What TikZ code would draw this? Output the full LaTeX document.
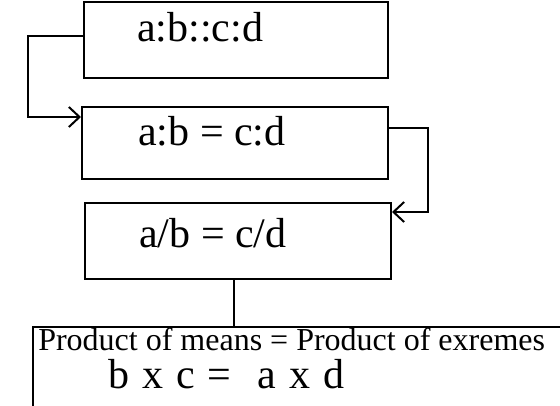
\documentclass[tikz,border=0pt]{standalone}
\usepackage{fontspec}
\setmainfont{Liberation Serif}
\usetikzlibrary{arrows.meta,positioning,calc}
\tikzset{
  box/.style={rectangle, draw=black, line width=1.5pt, inner sep=0pt,
    anchor=north west},
  txt/.style={anchor=base west, inner sep=0pt,
    font=\fontsize{31.5}{36}\selectfont},
  arr/.style={-{Straight Barb[length=8pt,width=15pt]}, line width=1.5pt}
}
\begin{document}
\begin{tikzpicture}[x=0.75pt,y=-0.75pt]
    \useasboundingbox (0,0) rectangle (560,406);
    \node[box, minimum width=228pt, minimum height=57pt] (ratio) at (83,1) {};
    \node[box, minimum width=229.5pt, minimum height=54pt] (eqcolon) at (81,106) {};
    \node[box, minimum width=229.5pt, minimum height=57pt] (frac) at (84,202) {};
    \node[box, minimum width=396pt, minimum height=78pt] (product) at (32,326) {};
    \node[txt] (ratiotxt) at (137,42) {a:b::c:d};
    \node[txt] (eqcolontxt) at (138,146) {a:b = c:d};
    \node[txt] (fractxt) at (139,247) {a/b = c/d};
    \node[txt, font=\fontsize{24}{28}\selectfont] (meanstxt) at (38,350)
        {Product of means = Product of exremes};
    \node[txt] (crosstxt) at (108,388)
        {\spaceskip=0.31em\relax b x c = \ a x d};
    \draw[arr] ($(ratio.north west)+(0,35)$) -- ++(-55,0)
        |- ($(eqcolon.north west)+(0,11)$);
    \draw[arr] ($(eqcolon.north east)+(0,22)$) -- ++(39,0)
        |- ($(frac.north east)+(0,10)$);
    \coordinate (drop) at ($(frac.south west)+(150,0)$);
    \draw[line width=1.5pt] (drop) -- (drop |- product.north);
  \end{tikzpicture}
\end{document}
